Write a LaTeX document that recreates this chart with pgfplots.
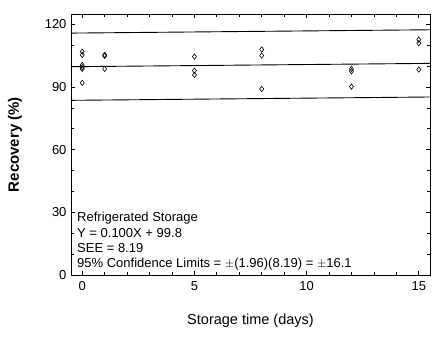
\documentclass[border=0pt]{standalone}
\usepackage{pgfplots}
\pgfplotsset{compat=1.18}
\usepackage{fontspec}
\setmainfont{Liberation Sans}
\begin{document}
\begin{tikzpicture}
\begin{axis}[
  scale only axis,
  width=359bp, height=261bp,
  xmin=-0.5, xmax=15.5, ymin=0, ymax=125,
  xtick={0,5,10,15}, ytick={0,30,60,90,120},
  minor x tick num=4, minor y tick num=2,
  tick align=inside,
  xtick pos=both, ytick pos=both,
  major tick length=4bp, minor tick length=3bp,
  axis line style={line width=0.9bp},
  every tick/.style={line width=0.7bp, black},
  /pgf/number format/assume math mode=true,
  tick label style={font=\fontsize{13bp}{15bp}\selectfont},
  xticklabel style={yshift=-3bp},
  yticklabel style={xshift=-1bp},
  xlabel={Storage time (days)},
  ylabel={\textbf{Recovery (\%)}},
  xlabel style={font=\fontsize{14.5bp}{17bp}\selectfont, at={(axis description cs:0.5,-0.176)}, anchor=center},
  ylabel style={font=\fontsize{15bp}{17bp}\selectfont, at={(axis description cs:-0.156,0.5)}, anchor=center, rotate=0},
  clip=false,
]
\addplot[only marks, mark=diamond, mark size=2.7bp, mark options={line width=0.6bp, fill=white}] coordinates {
(0,107.0) (0,105.4) (0,100.6) (0,99.5) (0,98.7) (0,92.0)
(1,105.4) (1,104.9) (1,98.7)
(5,104.6) (5,97.9) (5,95.8)
(8,108.0) (8,105.1) (8,89.1)
(12,98.7) (12,97.6) (12,90.2)
(15,112.7) (15,111.0) (15,98.4)
};
\addplot[line width=0.9bp, black] coordinates {(-0.5,99.75) (15.5,101.35)};
\addplot[line width=0.9bp, black] coordinates {(-0.5,115.85) (15.5,117.45)};
\addplot[line width=0.9bp, black] coordinates {(-0.5,83.65) (15.5,85.25)};
\end{axis}
\begin{scope}[every node/.style={anchor=base west, inner sep=0pt, font=\fontsize{13bp}{15bp}\selectfont}]
\node at (6bp,53bp) {Refrigerated Storage};
\node at (6bp,38bp) {Y = 0.100X + 99.8};
\node at (6bp,23bp) {SEE = 8.19};
\node at (6bp,8bp) {95\% Confidence Limits = \(\pm\)(1.96)(8.19) = \(\pm\)16.1};
\end{scope}
\pgfresetboundingbox
\path (-71bp,-64bp) rectangle (371bp,275bp);
\end{tikzpicture}
\end{document}
